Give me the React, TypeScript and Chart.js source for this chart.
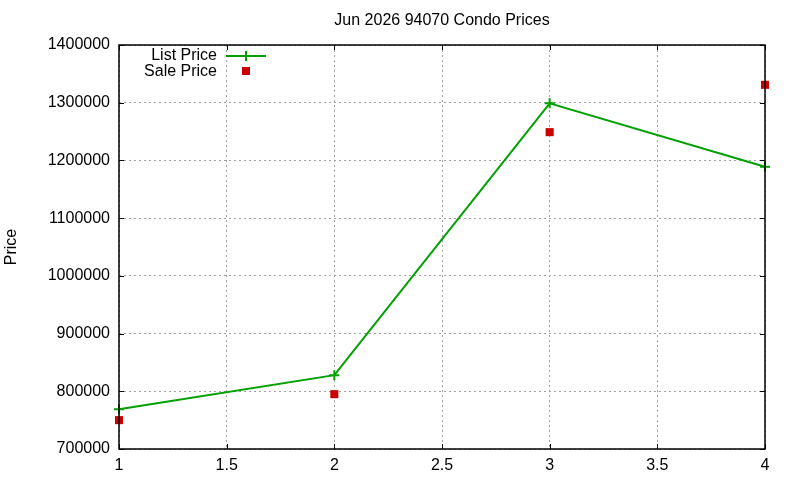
import React, { useEffect, useRef } from "react";
import { Chart, registerables } from "chart.js";

Chart.register(...registerables);

const titleText = "Jun 2026 94070 Condo Prices";
const yAxisTitle = "Price";
const xValues = [1, 2, 3, 4];
const listPrice = [769000, 828000, 1299000, 1189000];
const salePrice = [750000, 795000, 1249000, 1331000];
const seriesNames = ["List Price", "Sale Price"];
const yMin = 700000;
const yMax = 1400000;
const yStep = 100000;
const xMin = 1;
const xMax = 4;
const xStep = 0.5;

const FONT = "'Liberation Sans', Arial, sans-serif";
const GREEN = "#00a000";
const RED = "#cc0000";

const framePlugin = {
  id: "gnuplotFrame",
  afterDraw(chart: any) {
    const { ctx, chartArea } = chart;
    const { left, right, top, bottom } = chartArea;
    const xs = chart.scales.x;
    const ys = chart.scales.y;
    ctx.save();
    ctx.strokeStyle = "#000";
    ctx.lineWidth = 1.5;
    ctx.setLineDash([]);
    ctx.strokeRect(left, top, right - left, bottom - top);
    ctx.lineWidth = 1;
    const tl = 5;
    ys.ticks.forEach((t: any) => {
      const y = Math.round(ys.getPixelForValue(t.value)) + 0.5;
      ctx.beginPath();
      ctx.moveTo(left, y);
      ctx.lineTo(left + tl, y);
      ctx.moveTo(right, y);
      ctx.lineTo(right - tl, y);
      ctx.stroke();
    });
    xs.ticks.forEach((t: any) => {
      const x = Math.round(xs.getPixelForValue(t.value)) + 0.5;
      ctx.beginPath();
      ctx.moveTo(x, bottom);
      ctx.lineTo(x, bottom - tl);
      ctx.moveTo(x, top);
      ctx.lineTo(x, top + tl);
      ctx.stroke();
    });
    ctx.fillStyle = "#000";
    ctx.font = `16px ${FONT}`;
    ctx.textAlign = "center";
    ctx.textBaseline = "middle";
    ctx.fillText(titleText, (left + right) / 2, 21);
    ctx.textAlign = "right";
    ctx.fillText(seriesNames[0], 217, 56);
    ctx.fillText(seriesNames[1], 217, 72);
    ctx.strokeStyle = GREEN;
    ctx.lineWidth = 2;
    ctx.beginPath();
    ctx.moveTo(226, 56);
    ctx.lineTo(266, 56);
    ctx.moveTo(246, 51);
    ctx.lineTo(246, 61);
    ctx.stroke();
    ctx.fillStyle = RED;
    ctx.fillRect(242, 67, 8, 8);
    ctx.restore();
  },
};

export default function App() {
  const ref = useRef<HTMLCanvasElement | null>(null);
  useEffect(() => {
    if (!ref.current) return;
    const chart = new Chart(ref.current, {
      type: "line",
      data: {
        datasets: [
          {
            label: seriesNames[0],
            data: xValues.map((x, i) => ({ x, y: listPrice[i] })),
            borderColor: GREEN,
            backgroundColor: GREEN,
            borderWidth: 2,
            pointStyle: "cross",
            pointRadius: 5,
            pointBorderWidth: 2,
            pointBorderColor: GREEN,
            tension: 0,
            clip: false as any,
          },
          {
            label: seriesNames[1],
            data: xValues.map((x, i) => ({ x, y: salePrice[i] })),
            borderColor: RED,
            backgroundColor: RED,
            showLine: false,
            pointStyle: "rect",
            pointRadius: 5.7,
            pointBorderWidth: 0,
            clip: false as any,
          },
        ],
      },
      options: {
        responsive: false,
        animation: false,
        layout: { padding: { top: 45, right: 35, left: 0, bottom: 0 } },
        plugins: {
          legend: { display: false },
          title: { display: false },
          tooltip: { enabled: false },
        },
        scales: {
          x: {
            type: "linear",
            min: xMin,
            max: xMax,
            grid: { color: "#a0a0a0", lineWidth: 1, drawTicks: false },
            border: { display: false, dash: [2, 3] },
            ticks: {
              stepSize: xStep,
              padding: 7,
              color: "#000",
              font: { family: FONT, size: 16 },
              maxRotation: 0,
              callback: (v: any) => String(v),
            },
            afterFit: (s: any) => {
              s.height = 31;
            },
          },
          y: {
            type: "linear",
            min: yMin,
            max: yMax,
            grid: { color: "#a0a0a0", lineWidth: 1, drawTicks: false },
            border: { display: false, dash: [2, 3] },
            title: {
              display: true,
              text: yAxisTitle,
              color: "#000",
              font: { family: FONT, size: 16 },
              padding: { top: 2, bottom: 0 },
            },
            ticks: {
              stepSize: yStep,
              padding: 9,
              color: "#000",
              font: { family: FONT, size: 16 },
              callback: (v: any) => String(v),
            },
            afterFit: (s: any) => {
              s.width = 119;
            },
          },
        },
      },
      plugins: [framePlugin],
    });
    return () => chart.destroy();
  }, []);
  return (
    <div style={{ position: "absolute", left: 0, top: 0, width: 800, height: 480, background: "#fff" }}>
      <canvas ref={ref} width={800} height={480} />
    </div>
  );
}
